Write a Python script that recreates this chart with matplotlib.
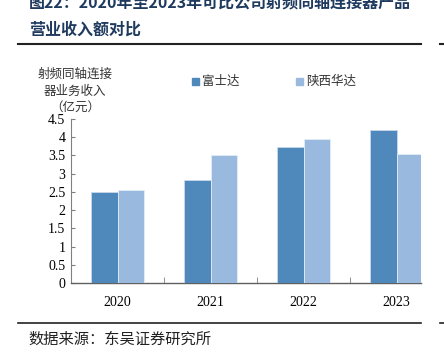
import matplotlib
matplotlib.use("Agg")
import matplotlib.pyplot as plt
from matplotlib.lines import Line2D
from matplotlib.patches import Rectangle

plt.rcParams['font.family'] = ['Noto Sans CJK SC', 'DejaVu Sans']

years = ["2020", "2021", "2022", "2023"]
series_names = ["富士达", "陕西华达"]
fushida = [2.50, 2.82, 3.73, 4.20]
shaanxi = [2.55, 3.52, 3.95, 3.54]
yticks = [0, 0.5, 1, 1.5, 2, 2.5, 3, 3.5, 4, 4.5]
ytick_labels = ["0", "0.5", "1", "1.5", "2", "2.5", "3", "3.5", "4", "4.5"]

W, H = 444, 353
fig = plt.figure(figsize=(W/100, H/100), dpi=100)

def fx(px): return px / W
def fy(py): return 1 - py / H

ax = fig.add_axes([fx(71), fy(283), fx(421) - fx(71), fy(119) - fy(283)])
c_dark = "#4F88BB"
c_light = "#9AB9DF"
bw = 0.29
x = list(range(len(years)))
ax.bar([i - bw/2 for i in x], fushida, width=bw, color=c_dark, edgecolor="#C9D9EC", linewidth=0.6, zorder=3)
ax.bar([i + bw/2 for i in x], shaanxi, width=bw, color=c_light, edgecolor="#E3ECF6", linewidth=0.6, zorder=3)

ax.set_xlim(-0.5, (421 - 71) / 93 - 0.5)
ax.set_ylim(0, 4.5)
ax.set_yticks(yticks)
ax.set_yticklabels(ytick_labels, fontfamily="Liberation Serif", fontsize=10)
ax.set_xticks(x)
ax.set_xticklabels(years, fontfamily="Liberation Serif", fontsize=10)
ax.tick_params(axis='x', length=0, pad=9)
ax.tick_params(axis='y', direction='in', length=3, color="#808080", pad=4)
# minor ticks between categories on x-axis
ax.set_xticks([0.5, 1.5, 2.5], minor=True)
ax.tick_params(axis='x', which='minor', direction='in', length=4, color="#808080")
for s in ["top", "right"]:
    ax.spines[s].set_visible(False)
ax.spines["left"].set_color("#808080")
ax.spines["bottom"].set_color("#606060")
ax.spines["bottom"].set_linewidth(1.0)

# y-axis label
fig.text(fx(75), fy(74), "射频同轴连接", ha="center", va="center", fontsize=9, color="#333333")
fig.text(fx(75), fy(91), "器业务收入", ha="center", va="center", fontsize=9, color="#333333")
fig.text(fx(75), fy(107), "（亿元）", ha="center", va="center", fontsize=9, color="#333333")

# legend
fig.patches.append(Rectangle((fx(192), fy(85)), fx(7), fy(0) - fy(7), color=c_dark, transform=fig.transFigure))
fig.text(fx(202), fy(81), series_names[0], ha="left", va="center", fontsize=9, color="#333333")
fig.patches.append(Rectangle((fx(296), fy(85)), fx(7), fy(0) - fy(7), color=c_light, transform=fig.transFigure))
fig.text(fx(306), fy(81), series_names[1], ha="left", va="center", fontsize=9, color="#333333")

# title (first line cut off at top)
title_color = "#1F3A5F"
fig.text(fx(29), fy(2), "图22：2020年至2023年可比公司射频同轴连接器产品", ha="left", va="center",
         fontsize=11.5, fontweight="bold", color=title_color)
fig.text(fx(29), fy(30), "营业收入额对比", ha="left", va="center",
         fontsize=11.5, fontweight="bold", color=title_color)

# rules
fig.lines.append(Line2D([fx(18), fx(421)], [fy(44), fy(44)], color="#222222", linewidth=1.5, transform=fig.transFigure))
fig.lines.append(Line2D([fx(440), fx(444)], [fy(44), fy(44)], color="#222222", linewidth=1.5, transform=fig.transFigure))
fig.lines.append(Line2D([fx(18), fx(421)], [fy(323), fy(323)], color="#222222", linewidth=1.2, transform=fig.transFigure))
fig.lines.append(Line2D([fx(440), fx(444)], [fy(323), fy(323)], color="#222222", linewidth=1.2, transform=fig.transFigure))

fig.text(fx(28), fy(339), "数据来源：东吴证券研究所", ha="left", va="center", fontsize=11, color="#222222")

fig.savefig("out.png", dpi=100)
